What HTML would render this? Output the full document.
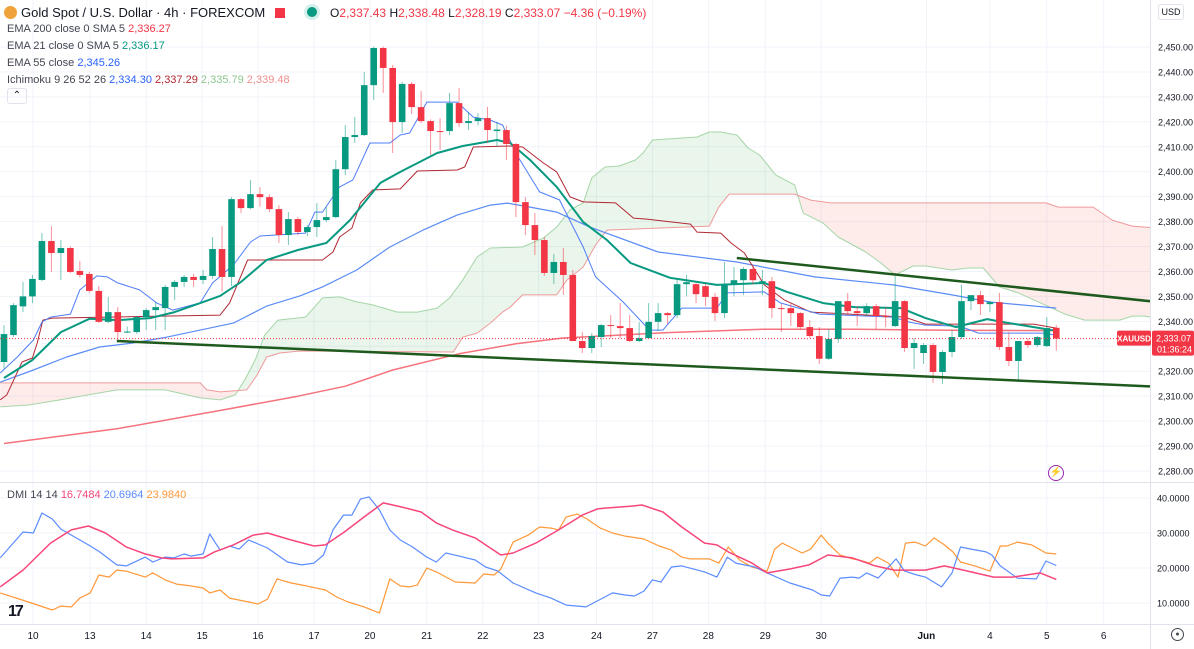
<!DOCTYPE html>
<html><head><meta charset="utf-8">
<style>
html,body{margin:0;padding:0;background:#fff;width:1194px;height:649px;overflow:hidden;font-family:"Liberation Sans",sans-serif;}
svg{display:block}
.lg{position:absolute;font-size:11px;color:#434651;white-space:nowrap;font-family:"Liberation Sans",sans-serif}
</style></head><body>
<div style="position:relative;width:1194px;height:649px">
<svg id="chart" width="1194" height="649" xmlns="http://www.w3.org/2000/svg"></svg>

<div class="lg" style="left:4px;top:4px;font-size:13px;color:#131722">
<span style="display:inline-block;width:13px;height:13px;border-radius:50%;background:#f0a33a;vertical-align:-2px;margin-right:4px"></span>Gold Spot / U.S. Dollar · 4h · FOREXCOM
<span style="display:inline-block;width:10px;height:10px;background:#f23645;margin-left:6px;vertical-align:-1px"></span>
<span style="display:inline-block;width:10px;height:10px;border-radius:50%;background:#089981;border:3px solid #d3efe9;margin-left:16px;vertical-align:-3px"></span>
<span style="margin-left:6px;font-size:12px">O<span style="color:#f23645">2,337.43</span> H<span style="color:#f23645">2,338.48</span> L<span style="color:#f23645">2,328.19</span> C<span style="color:#f23645">2,333.07 −4.36 (−0.19%)</span></span>
</div>
<div class="lg" style="left:7px;top:23px">EMA 200 close 0 SMA 5 <span style="color:#f23645">2,336.27</span></div>
<div class="lg" style="left:7px;top:40px">EMA 21 close 0 SMA 5 <span style="color:#089981">2,336.17</span></div>
<div class="lg" style="left:7px;top:57px">EMA 55 close <span style="color:#2962ff">2,345.26</span></div>
<div class="lg" style="left:7px;top:74px">Ichimoku 9 26 52 26 <span style="color:#2962ff">2,334.30</span> <span style="color:#b22833">2,337.29</span> <span style="color:#8cc68f">2,335.79</span> <span style="color:#ef8f8f">2,339.48</span></div>
<div style="position:absolute;left:7px;top:88px;width:18px;height:14px;border:1px solid #e0e3eb;border-radius:3px;font-size:10px;text-align:center;line-height:14px;color:#131722">⌃</div>
<div class="lg" style="left:7px;top:489px">DMI 14 14 <span style="color:#f7467a">16.7484</span> <span style="color:#5b8cff">20.6964</span> <span style="color:#ff9838">23.9840</span></div>
<div style="position:absolute;left:1158px;top:4px;width:24px;height:14px;border:1px solid #e0e3eb;border-radius:3px;font-size:9px;text-align:center;line-height:14px;color:#131722;font-family:'Liberation Sans',sans-serif">USD</div>
<div style="position:absolute;left:8px;top:603px;font-size:16px;font-weight:bold;color:#131722;letter-spacing:-2px;font-family:'Liberation Sans',sans-serif">17</div>
<div style="position:absolute;left:1048px;top:465px;width:14px;height:14px;border-radius:50%;border:1.5px solid #9c27b0;color:#9c27b0;font-size:10px;text-align:center;line-height:14px">⚡</div>
<div style="position:absolute;left:1171px;top:628px;width:11px;height:11px;border-radius:50%;border:1.5px solid #434651;font-size:7px;text-align:center;line-height:11px;color:#434651">●</div>
</div>

<script>
// ---------- data ----------
const opens=[2323.7,2334.5,2346,2350,2356.6,2372.2,2367.4,2369.4,2360.2,2359,2352.2,2339.8,2343.7,2335.7,2335.7,2341.7,2344.5,2345.3,2353.8,2355.8,2357.8,2356.6,2358.2,2369,2357.8,2389,2385.4,2391,2389.8,2385,2374.6,2381,2375.8,2377.8,2380.6,2381.8,2401,2413.9,2414.7,2434.7,2449.6,2441.6,2419.9,2435.2,2425.9,2420.3,2416.3,2416.3,2427.5,2419.5,2420.3,2421.5,2416.3,2416.7,2411.1,2387.8,2378.6,2372.6,2359.4,2363.8,2358.6,2332.1,2329.3,2333.7,2338.5,2338.1,2337.3,2332.1,2333.3,2339.8,2343.3,2342.5,2354.9,2354.9,2354.1,2349.8,2343.3,2354.9,2356.5,2361,2356.1,2356.1,2345.3,2345.3,2343.3,2337.7,2334.1,2325,2332.9,2348.1,2344.1,2343.3,2346.1,2342.1,2338.1,2348.1,2329.3,2327.3,2330.5,2319.7,2327.7,2333.7,2348.1,2350.5,2346.9,2347.7,2329.7,2324.1,2332.1,2330.5,2330.1,2337.43];
const highs=[2338.5,2347.3,2355.8,2358.6,2375.4,2378.2,2372.6,2370,2364.2,2359.8,2354.2,2349.8,2345.7,2338,2342.1,2345.3,2347.7,2354.6,2356.6,2358.6,2359,2360.6,2373.8,2378.2,2389.8,2389.4,2396.6,2393.8,2391,2386.6,2383.8,2381.8,2378.6,2387.4,2386,2404.7,2418.7,2421.9,2440,2450.2,2450.2,2442.8,2436,2436,2432.4,2421,2421.5,2431.6,2433.6,2424,2423.5,2426,2420,2418.5,2411.5,2389.8,2383.4,2373.8,2367,2369.4,2360.6,2335.7,2335.3,2338.9,2342.5,2347.3,2342.5,2339.7,2347.3,2347.3,2343.7,2356.6,2358.6,2355.3,2355,2351.4,2363.8,2361.8,2361.8,2362.6,2360.6,2357.8,2347,2347,2343.7,2340.5,2337.7,2336.9,2348.1,2351.4,2346.1,2347.3,2347,2345.7,2359.4,2348.5,2333.3,2331.3,2331.3,2328.5,2336.5,2354.6,2349.4,2352.2,2348.1,2351.4,2335.7,2332.1,2333.3,2334.1,2341.7,2338.48];
const lows=[2321,2333.7,2343.7,2347.3,2356,2359.8,2356.6,2359.4,2357.6,2351.4,2339.3,2339.3,2332.5,2335.2,2334.9,2336.5,2336.5,2336.5,2348.5,2353.8,2353.8,2355,2357,2352,2354.2,2383.4,2385,2386,2383.8,2371.4,2370.6,2374.6,2374.2,2373.8,2379.8,2381.4,2398.6,2411.5,2414.3,2428.7,2431.6,2407.5,2415.5,2423.1,2419.5,2406.7,2408.7,2414.7,2417.9,2416.7,2418.5,2411.5,2410.3,2404.7,2381.8,2374.6,2366.6,2358.2,2355,2350.6,2332.1,2327.3,2327.3,2329.7,2333.3,2333.3,2331.7,2331.7,2333,2336.1,2338.9,2341.3,2350,2347.3,2346.1,2340.2,2341.3,2350,2350.5,2354.9,2350.5,2341.3,2335.7,2338.1,2336.5,2333.3,2322.9,2324.5,2331.3,2342.5,2338.1,2342.1,2336.9,2337.7,2337.7,2327.7,2320.9,2322.9,2315.3,2314.9,2325.7,2332.9,2344.5,2342.5,2343.7,2328.5,2322.1,2316.1,2329.3,2329.7,2329.7,2328.19];
const closes=[2334.9,2346.5,2350,2357,2372.2,2367.4,2369.4,2359.8,2358.6,2352.2,2339.8,2343.7,2335.7,2335.9,2341.7,2344.5,2345.7,2353.8,2355.8,2357.8,2356.6,2358.2,2369,2357.8,2389,2385.4,2391,2389.8,2385,2374.6,2381,2375.8,2377.8,2380.6,2381.8,2401,2413.9,2414.7,2434.7,2449.6,2441.6,2419.9,2435.2,2425.9,2420.3,2416.3,2415.9,2427.5,2419.5,2420.3,2421.5,2416.7,2416.9,2411.1,2387.8,2378.6,2372.6,2359.4,2363.8,2358.6,2332.1,2329.3,2334.1,2338.5,2338.1,2337.3,2332.1,2333.3,2339.8,2343.3,2342.5,2354.9,2355.7,2350.9,2349.8,2343.3,2354.9,2356.5,2361,2356.5,2356.1,2345.3,2345.1,2343.3,2337.7,2334.1,2325,2332.9,2348.1,2344.1,2343.3,2346.1,2342.1,2341.7,2348.1,2329.3,2331.3,2330.5,2319.7,2327.7,2333.7,2348.1,2350.5,2346.9,2347.7,2329.7,2324.1,2332.1,2330.5,2333.7,2337.3,2333.07];

const ema200=[[0,2291],[12,2297],[23,2304.4],[31,2310],[36,2314],[41,2320.5],[48,2327],[54,2331],[59,2333.3],[70,2335.5],[80,2336.8],[90,2336.8],[100,2336.4],[111,2336.3]];
const ema21=[[0,2317.3],[3,2324.5],[6,2335.7],[9,2341],[12,2340.5],[15.4,2341.3],[18,2343.7],[20.7,2347.3],[22.8,2350.2],[25,2355.8],[27.7,2364.6],[31,2368.6],[34,2371.4],[36.5,2380.6],[39.7,2395.5],[41.8,2399.9],[45.7,2407.5],[48.4,2410.3],[52,2412.7],[53.4,2411.5],[55.5,2404.7],[58.3,2393.9],[61.1,2379.8],[63.6,2372.6],[66.1,2363.4],[70.3,2357.4],[75.2,2354.6],[80.2,2355.4],[82.6,2351.8],[86.4,2347.3],[89.7,2345.7],[94.6,2345.3],[97.2,2341.3],[100.4,2337.7],[103.7,2340.9],[105.4,2339.7],[111,2336.2]];
const ema55=[[-0.4,2315.6],[3.1,2320.5],[6.6,2325.7],[10.1,2329.7],[13.6,2331.3],[17.2,2333.7],[20.7,2336.5],[24.2,2339.3],[27.7,2346.1],[31.2,2350.2],[33.6,2353.8],[37.2,2360.6],[40.7,2369.8],[44.2,2376.6],[47.8,2382.6],[51.3,2386.6],[53.1,2387.4],[55.5,2385.8],[58.3,2383.8],[61.8,2377.8],[69,2367.8],[77.3,2363.8],[85.5,2357.8],[93.8,2354.6],[100,2350.6],[104.1,2347.7],[111,2345.3]];
const tenkan=[[-0.4,2319.3],[1.4,2325.7],[3.1,2332.5],[4,2339.7],[4.9,2341.7],[7,2342.9],[8,2352.6],[9.8,2358.2],[10.9,2357.8],[12,2355.4],[14.3,2352.6],[16.1,2347.4],[17.8,2344.5],[20.7,2347.4],[22,2355.4],[24.2,2362.6],[26,2371.8],[27,2374.2],[31.8,2375.4],[32.8,2383.8],[33.6,2383.8],[35.4,2393.9],[36.8,2396.7],[38.6,2411.5],[40.7,2411.5],[41.8,2414.7],[42.8,2415.5],[44.6,2427.9],[47.8,2427.9],[49.5,2421.9],[51.3,2420.7],[52.6,2418.7],[54.1,2406.7],[56.5,2391.9],[58.6,2388.7],[61.1,2369.8],[62.4,2357.8],[65.3,2347.8],[68.1,2336.5],[69.5,2336.5],[71.5,2345.3],[75.2,2345.3],[76.3,2351.4],[80.2,2351.8],[81.9,2347.4],[86,2342.9],[93.8,2341.7],[95.5,2339.7],[97.2,2338.5],[100.8,2338.1],[102.8,2335.3],[109.9,2335.3],[111,2334.3]];
const kijun=[[-0.4,2308.5],[0.3,2310.5],[1.9,2323.7],[3,2325.3],[3.5,2331.3],[4.1,2340.5],[5.1,2341.3],[22.8,2342.5],[23.8,2347.4],[25.7,2364.6],[33.6,2364.6],[34.7,2367.8],[35.4,2373.8],[36.7,2377.4],[37.6,2387.5],[38.9,2392.7],[41.8,2393.1],[43.6,2400.3],[47.8,2400.7],[48.6,2401.9],[49.5,2409.9],[53.4,2410.3],[54.7,2409.9],[56.9,2403.5],[58.3,2399.9],[59.7,2389.9],[61.1,2387.9],[64.5,2387.5],[66.4,2381.4],[67.8,2381],[72.4,2379],[73.1,2375.8],[75.6,2375.4],[76.7,2371.4],[78.1,2367.4],[80.2,2354.6],[82.3,2348.6],[83.9,2345.8],[85.1,2343.7],[87.2,2343.3],[95,2341.7],[97.2,2338.9],[108.6,2338.9],[111,2337.3]];
const spanA=[[-0.4,2305.7],[2.7,2306.5],[5.9,2308.5],[10.1,2311.3],[11.9,2312.5],[17,2312.5],[20.7,2309.3],[22.8,2308.5],[24.4,2310.5],[25.4,2316.5],[26.5,2324.5],[27.5,2334.5],[28.9,2340.5],[31.8,2341.7],[33.6,2349.4],[35.4,2349.8],[37.2,2347.8],[38.9,2346.6],[41.5,2343.7],[43.6,2343.7],[45.7,2345.3],[47,2349.4],[48.4,2356.6],[49.9,2365.8],[51.3,2369.4],[54.7,2369.8],[56.9,2373.4],[58.3,2377.8],[59.7,2384.6],[61.1,2387.5],[62,2397.5],[63.4,2401.9],[64.9,2402.3],[66.6,2404.7],[67.4,2407.5],[68.4,2412.7],[73.1,2413.9],[74.4,2415.9],[75.6,2415.9],[77.3,2414.7],[78.5,2409.5],[79.7,2406.7],[81.4,2398.7],[83.4,2394.7],[84.3,2383.4],[86.4,2379.4],[88,2373.8],[90.9,2367.8],[92.5,2363.4],[94,2358.6],[95.9,2362.2],[97.2,2362.2],[100,2360.6],[101.7,2361.4],[103.3,2361.4],[105,2353.8],[107,2351.4],[110.3,2345.7],[111.9,2342.9],[114,2340.5],[117.7,2340.5],[119,2342.1],[120.3,2342.1],[121.6,2341.3]];
const spanB=[[-0.4,2315.3],[20.7,2315.3],[21.4,2312.5],[22.8,2311.7],[24.2,2312.1],[25.6,2312.5],[26.7,2318.5],[27.7,2325.7],[29.1,2327.3],[31.2,2328.1],[47.4,2327.7],[48.4,2333.7],[49.9,2335.3],[51.3,2339.3],[52.6,2343.7],[53.4,2345.7],[54.7,2350.6],[58.3,2350.6],[59.4,2356.6],[61.1,2361.8],[62.4,2370.6],[63.6,2376.6],[74.4,2378.2],[75.4,2385.8],[76.5,2391],[83.4,2391],[85.1,2388.6],[87.2,2387.5],[109.9,2387.5],[111.2,2385.8],[114.9,2385.8],[116.9,2380.6],[119,2378.2],[121.6,2377.4]];
const trendUpper=[[77.3,2365.4],[121.6,2347.8]];
const trendLower=[[11.9,2332.1],[121.6,2313.8]];
const lastPrice=2333.07;

const adx=[[-0.4,14.6],[2,19.4],[4.9,27.1],[7.1,30.9],[8.9,32],[10.7,30],[12.9,26],[14.9,24],[16.6,22.9],[17.7,22.6],[21,22.9],[22.2,24.6],[24.2,26.6],[26.3,29.4],[27.8,30],[30.3,28],[32.7,26.3],[33.9,26.6],[35.9,30.3],[38,34.6],[40,38.6],[42,37.4],[44,36],[45.6,32.9],[47.3,30.9],[49.7,28.6],[51.3,25.7],[52.4,23.7],[53.7,24.3],[56.1,27.1],[58.5,30.9],[61,35.1],[62.6,36.9],[63.4,37.1],[66.2,37.7],[67.3,38],[69.5,36],[71.5,31.7],[73.9,27.1],[75.2,26.6],[76.4,24.6],[78.9,21.4],[80.5,18.6],[82.9,19.7],[84.9,20.9],[86.9,23.7],[89.5,22.9],[91.9,20.6],[93.9,19.4],[97.2,19.4],[99.2,20.6],[101.2,19.4],[104.4,17.4],[106.4,17.4],[109.3,18.6],[111,16.75]];
const plusDI=[[-0.4,22.9],[2,30.3],[3.1,30],[4,35.7],[5.1,34],[6,31.1],[8.9,26.6],[10.1,24.6],[11.9,20.9],[12.9,20.6],[14.9,23.1],[15.7,21.7],[17,23.1],[17.9,22.9],[19,24],[19.7,23.4],[21,24],[21.7,29.7],[22.8,25.1],[23.8,26.3],[24.8,25.4],[25.8,28],[27.8,25.7],[29.9,21.7],[31.4,20.9],[32.7,21.4],[33.7,23.7],[34.7,30.9],[35.8,35.1],[36.7,35.1],[37.6,39.7],[38.5,40.3],[39.6,36.6],[40.7,30.9],[41.8,28],[43.1,26],[44.6,23.1],[45.6,21.7],[46.6,24.3],[48,23.4],[49.7,22.3],[50.8,20.3],[52.1,19.1],[53.7,15.7],[56.1,12.9],[57.7,11.4],[59.3,9.4],[61.4,8.9],[64.2,12.9],[65.5,12.3],[66.5,12],[67.5,13.4],[68.4,16.6],[69.3,16],[70.4,20.3],[71.5,20.6],[73.9,18.9],[75.2,17.4],[76.3,23.1],[77.2,21.4],[79.2,20.3],[80.5,18.6],[82.9,15.7],[85.3,13.7],[86.2,12.3],[87.1,12],[88.2,17.1],[89.5,17.4],[90.2,17.1],[91,18.6],[92.2,17.1],[94.1,22.6],[95,19.1],[96.3,18],[97.2,17.4],[98.9,14.6],[100,18.6],[100.9,26],[102,25.4],[103.6,24.6],[104.2,23.7],[105.1,20.6],[106.9,17.1],[108.9,16.9],[109.9,22],[111,20.7]];
const minusDI=[[-0.4,12.9],[2.9,10],[5.1,8],[6,9.1],[7.1,8.9],[8,11.4],[9.1,12.9],[10,18],[11.1,17.4],[11.9,19.4],[12.9,19.1],[14.9,17.4],[15.7,18.6],[17,16.6],[18.2,15.4],[19.7,14.9],[21,14.3],[21.7,12.9],[22.8,13.7],[23.8,11.4],[25.8,10.3],[26.8,9.7],[27.8,11.1],[28.8,16.9],[30.3,15.7],[31.9,14.9],[33.9,13.7],[35.1,11.7],[36.3,10.3],[38,8.9],[39.6,7.1],[40.7,16.9],[41.8,14.9],[42.7,14.6],[43.6,15.1],[44.6,20],[45.6,18.9],[47.6,16],[49.7,15.7],[50.6,18.3],[51.7,18],[52.4,19.7],[53.7,27.4],[55.3,29.4],[56.5,31.7],[57.7,31.4],[58.5,30.9],[59.3,34.6],[60.5,35.4],[61.5,34],[62.9,31.4],[64.2,30],[65.5,29.1],[67.5,28.3],[69.1,26.3],[70.4,25.1],[71.5,23.1],[72.4,22.6],[74.4,22.6],[75.4,21.4],[76.4,26],[77.6,22.3],[78.9,20.3],[80.5,19.1],[81.3,25.4],[82.1,27.1],[84.2,24.3],[85.1,25.4],[86.2,29.4],[86.9,27.1],[88.2,23.7],[89.5,22.6],[90.2,22.3],[91.3,21.4],[92.1,23.1],[93.3,21.4],[94.3,17.4],[95.1,27.1],[96.1,27.4],[97.2,26.3],[98.1,28.6],[99.2,26.6],[100.1,24.6],[100.9,21.7],[102.4,20.6],[104,19.1],[105.1,26.3],[105.8,26.3],[106.9,27.4],[108.4,26.6],[109.9,24.3],[111,24]];

const priceTicks=[2280,2290,2300,2310,2320,2330,2340,2350,2360,2370,2380,2390,2400,2410,2420,2430,2440,2450];
const dmiTicks=[10,20,30,40];
const dateLabels=["10","13","14","15","16","17","20","21","22","23","24","27","28","29","30","Jun","4","5","6"];
const dateBars=[3.06,9.07,15,20.9,26.8,32.7,38.6,44.6,50.5,56.4,62.5,68.4,74.3,80.3,86.2,97.3,104,110,116];

// ---------- scales ----------
const PW=1150, PANE_SPLIT=482, AXIS_TOP=624;
const X=i=>4+i*9.48;
const Y=p=>47+(2450-p)*2.494;
const DY=v=>498+(40-v)*3.5;
const ns="http://www.w3.org/2000/svg";
const svg=document.getElementById('chart');
function mk(tag,attrs,parent){const e=document.createElementNS(ns,tag);for(const k in attrs)e.setAttribute(k,attrs[k]);(parent||svg).appendChild(e);return e;}

const defs=mk('defs',{});
const c1=mk('clipPath',{id:'mainClip'},defs);mk('rect',{x:0,y:0,width:PW,height:PANE_SPLIT},c1);
const c2=mk('clipPath',{id:'dmiClip'},defs);mk('rect',{x:0,y:PANE_SPLIT,width:PW,height:AXIS_TOP-PANE_SPLIT},c2);

const grid=mk('g',{});


priceTicks.forEach(p=>{const l=mk('line',{x1:0,x2:PW,y1:Y(p),y2:Y(p),stroke:'#f0f3fa','stroke-width':1},grid);

});
dmiTicks.forEach(v=>{const l=mk('line',{x1:0,x2:PW,y1:DY(v),y2:DY(v),stroke:'#f0f3fa','stroke-width':1},grid);

});
dateBars.forEach(b=>{const l=mk('line',{x1:X(b),x2:X(b),y1:0,y2:AXIS_TOP,stroke:'#f0f3fa','stroke-width':1},grid);

});

const main=mk('g',{'clip-path':'url(#mainClip)'});



function interp(arr,t){if(t<=arr[0][0])return arr[0][1];for(let k=1;k<arr.length;k++){if(t<=arr[k][0]){const a=arr[k-1],b=arr[k];return a[1]+(b[1]-a[1])*(t-a[0])/(b[0]-a[0]);}}return arr[arr.length-1][1];}

(function(){const t0=Math.max(spanA[0][0],spanB[0][0]),t1=Math.min(spanA[spanA.length-1][0],spanB[spanB.length-1][0]);
let run=[],sign=null;const runs=[];
for(let t=t0;t<=t1+1e-9;t+=0.1){const a=interp(spanA,t),b=interp(spanB,t);const s=a>=b;
 if(sign!==null&&s!==sign){runs.push({s:sign,pts:run});run=[run[run.length-1]];}
 sign=s;run.push([t,a,b]);}
runs.push({s:sign,pts:run});
runs.forEach(r=>{let d='';r.pts.forEach((q,k)=>{d+=(k?'L':'M')+X(q[0]).toFixed(1)+','+Y(q[1]).toFixed(1);});
 for(let k=r.pts.length-1;k>=0;k--){const q=r.pts[k];d+='L'+X(q[0]).toFixed(1)+','+Y(q[2]).toFixed(1);}
 const p=mk('path',{d:d+'Z',fill:r.s?'rgba(67,160,71,0.11)':'rgba(244,67,54,0.1)',stroke:'none'},main);
 
 });
})();

function line(arr,color,w,parent,sy,name){const d=arr.map((q,k)=>(k?'L':'M')+X(q[0]).toFixed(1)+','+sy(q[1]).toFixed(1)).join('');
 const p=mk('path',{d:d,fill:'none',stroke:color,'stroke-width':w,'stroke-linejoin':'round'},parent);
 
 
 return p;}
line(spanA,'#a5d6a7',1,main,Y,'senkou-span-a');
line(spanB,'#ef9a9a',1,main,Y,'senkou-span-b');
line(ema200,'rgba(242,54,69,0.7)',1.5,main,Y,'ema200-line');
line(ema55,'#5b8cf5',1.2,main,Y,'ema55-line');
line(kijun,'#b22833',1,main,Y,'kijun-line');
line(tenkan,'#4f7df9',1,main,Y,'tenkan-line');
line(ema21,'#089981',2,main,Y,'ema21-line');

for(let i=0;i<closes.length;i++){const up=closes[i]>=opens[i];const col=up?'#089981':'#f23645';const x=X(i);
 const w=mk('line',{x1:x,x2:x,y1:Y(highs[i]),y2:Y(lows[i]),stroke:up?'rgba(8,153,129,0.55)':'rgba(242,54,69,0.55)','stroke-width':1},main);
 
 
 const top=Y(Math.max(opens[i],closes[i])),bot=Y(Math.min(opens[i],closes[i]));
 const r=mk('rect',{x:x-3.3,y:top,width:6.6,height:Math.max(1,bot-top),fill:col},main);
 
 }

line(trendUpper,'#1e5a1e',2.5,main,Y,'upper-trendline');
line(trendLower,'#1e5a1e',2.5,main,Y,'lower-trendline');

const lp=mk('line',{x1:0,x2:PW,y1:Y(lastPrice),y2:Y(lastPrice),stroke:'#f23645','stroke-width':1,'stroke-dasharray':'1,2'},main);



const dmi=mk('g',{'clip-path':'url(#dmiClip)'});


line(minusDI,'#ff9838',1.2,dmi,DY,'minus-di-line');
line(plusDI,'#5b8cff',1.2,dmi,DY,'plus-di-line');
line(adx,'#f7467a',1.5,dmi,DY,'adx-line');

const sep=mk('line',{x1:0,x2:1194,y1:PANE_SPLIT+0.5,y2:PANE_SPLIT+0.5,stroke:'#e0e3eb','stroke-width':1});


const ax=mk('line',{x1:0,x2:1194,y1:AXIS_TOP+0.5,y2:AXIS_TOP+0.5,stroke:'#e0e3eb','stroke-width':1});


const pab=mk('line',{x1:PW+0.5,x2:PW+0.5,y1:0,y2:649,stroke:'#e0e3eb','stroke-width':1});



priceTicks.forEach(p=>{const t=mk('text',{x:1158,y:Y(p)+3.5,'font-size':'9','font-family':'Liberation Sans, sans-serif',fill:'#131722'});
 t.textContent=p.toLocaleString('en-US',{minimumFractionDigits:2});
 
 });
dmiTicks.forEach(v=>{const t=mk('text',{x:1157,y:DY(v)+3.5,'font-size':'9','font-family':'Liberation Sans, sans-serif',fill:'#131722'});
 t.textContent=v.toFixed(4);
 
 });
dateLabels.forEach((s,k)=>{const t=mk('text',{x:X(dateBars[k]),y:639,'text-anchor':'middle','font-size':'10','font-weight':s==='Jun'?'bold':'normal','font-family':'Liberation Sans, sans-serif',fill:'#131722'});
 t.textContent=s;
 
 });

const yl=Y(lastPrice);
const sb=mk('rect',{x:1117,y:yl-8,width:34,height:15,rx:2,fill:'#f23645'});


const st=mk('text',{x:1134,y:yl+3,'text-anchor':'middle','font-size':'8','font-weight':'bold','font-family':'Liberation Sans, sans-serif',fill:'#fff'});st.textContent='XAUUSD';


const pb=mk('rect',{x:1152,y:yl-8,width:42,height:25,rx:2,fill:'#f23645'});


const pt=mk('text',{x:1156,y:yl+3,'font-size':'9','font-family':'Liberation Sans, sans-serif',fill:'#fff'});pt.textContent='2,333.07';


const ct=mk('text',{x:1157,y:yl+14,'font-size':'9','font-family':'Liberation Sans, sans-serif',fill:'#fff'});ct.textContent='01:36:24';


</script>
</body></html>
